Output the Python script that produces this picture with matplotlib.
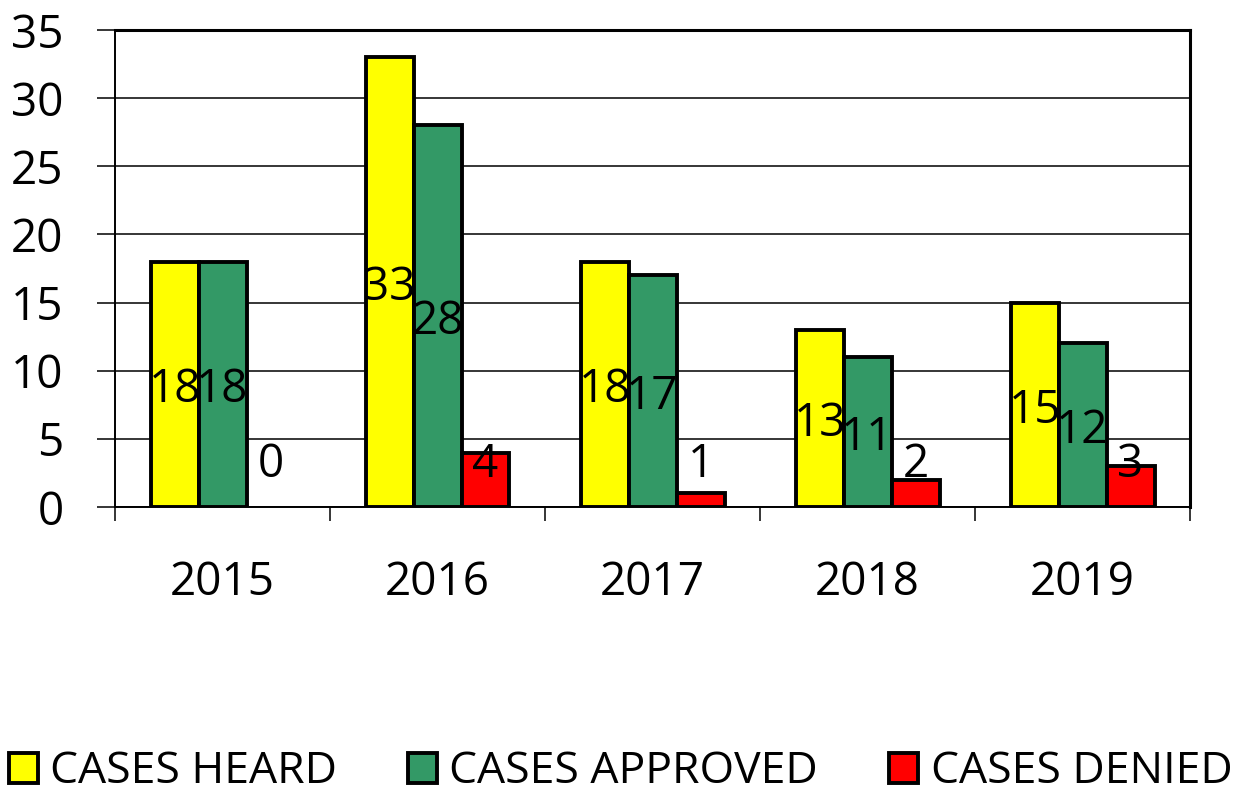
#!/usr/bin/env python3
"""Grouped bar chart of cases heard / approved / denied per year."""

import matplotlib
matplotlib.use('Agg')
import matplotlib.pyplot as plt
import matplotlib.transforms as mtransforms
import numpy as np

years = ['2015', '2016', '2017', '2018', '2019']
cases_heard = [18, 33, 18, 13, 15]
cases_approved = [18, 28, 17, 11, 12]
cases_denied = [0, 4, 1, 2, 3]

series = [
    ('CASES HEARD', cases_heard, '#FFFF00'),
    ('CASES APPROVED', cases_approved, '#339966'),
    ('CASES DENIED', cases_denied, '#FF0000'),
]

plt.rcParams['font.family'] = ['Open Sans', 'DejaVu Sans']
FS = 33

fig = plt.figure(figsize=(12.41, 7.96), dpi=100)
ax = fig.add_axes([0.0927, 0.363, 0.959 - 0.0927, 0.9623 - 0.363])

x = np.arange(len(years))
width = 0.223
# labels sit a little below the bar middle, like the original
shift = mtransforms.offset_copy(ax.transData, fig=fig, x=0, y=-6, units='dots')

for i, (label, vals, color) in enumerate(series):
    pos = x + (i - 1) * width
    lws = [2.8 if v > 0 else 0 for v in vals]
    ax.bar(pos, vals, width, color=color, edgecolor='black',
           linewidth=lws, label=label, zorder=3)
    for px, v in zip(pos, vals):
        ypos = v / 2 if i < 2 else max(v / 2, 3.55)
        ax.text(px, ypos, f'{v}', ha='center', va='center',
                fontsize=FS, zorder=4, transform=shift)

ax.set_xlim(-0.5, len(years) - 0.5)
ax.set_ylim(0, 35)
ax.set_yticks(range(0, 36, 5))
ax.yaxis.grid(True, color='black', linewidth=1.1, zorder=0)

ax.set_xticks(x)
ax.set_xticklabels(years)
ax.set_xticks(np.arange(-0.5, len(years), 1), minor=True)
ax.tick_params(axis='x', which='major', length=0, pad=38, labelsize=FS)
ax.tick_params(axis='x', which='minor', length=10, width=1.1)
ax.tick_params(axis='y', length=13, width=1.1, pad=24, labelsize=FS)

ax.spines['left'].set_linewidth(1.4)
ax.spines['bottom'].set_linewidth(1.4)
ax.spines['top'].set_linewidth(2.2)
ax.spines['right'].set_linewidth(2.2)

leg = fig.legend(loc='center', bbox_to_anchor=(0.5, 0.03), ncol=3,
                 frameon=False, fontsize=32, handlelength=0.65, handleheight=0.65,
                 handletextpad=0.28, columnspacing=1.6, borderaxespad=0)
for h in leg.legend_handles:
    h.set_linewidth(2.8)

plt.savefig('out.png', dpi=100)
plt.close()
print('Chart saved: out.png')
